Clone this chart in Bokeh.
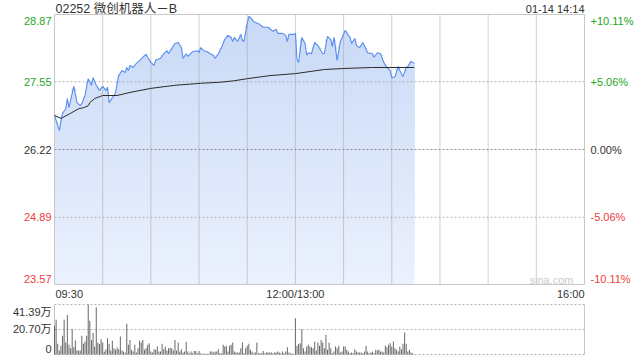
import numpy as np
from bokeh.plotting import figure
from bokeh.models import Range1d
from bokeh.core.properties import value
from bokeh.embed import file_html
from bokeh.resources import INLINE

# ---------------- data ----------------
TITLE = "02252 微创机器人－B"
STAMP = "01-14 14:14"
PRICE_TICKS = [23.57, 24.89, 26.22, 27.55, 28.87]
PCT_LABELS = ["-10.11%", "-5.06%", "0.00%", "+5.06%", "+10.11%"]
TIME_TICKS = [0, 150, 330]
TIME_LABELS = ["09:30", "12:00/13:00", "16:00"]
VOL_TICKS = [0, 20.70, 41.39]
VOL_LABELS = ["0", "20.70万", "41.39万"]

# minute index from 09:30 (150 = 13:00), last price
price_min = [0, 3, 5, 7, 8, 9, 10, 12, 14, 16, 17, 19, 21, 23, 24, 26, 28, 30, 32, 33,
             34, 37, 38, 40, 42, 44, 45, 46, 47, 49, 51, 53, 55, 57, 58, 60, 62, 63, 66, 68,
             70, 71, 73, 75, 77, 79, 80, 82, 83, 86, 89, 90, 91, 93, 95, 97, 99, 100, 102, 104,
             106, 108, 110, 111, 112, 114, 116, 117, 118, 120, 121, 122, 124, 127, 130, 133, 136, 138, 139, 142,
             144, 145, 146, 149, 150, 151, 152, 154, 156, 157, 158, 160, 162, 164, 167, 168, 170, 172, 173, 174,
             176, 178, 180, 181, 183, 184, 185, 187, 188, 190, 192, 195, 198, 199, 201, 203, 205, 207, 209, 210,
             212, 214, 215, 217, 219, 220, 222, 224]
price_val = [26.89, 26.59, 26.93, 27.02, 27.22, 27.04, 27.18, 27.46, 27.14, 27.08, 27.12, 27.28, 27.61, 27.48, 27.63, 27.48, 27.38, 27.46, 27.38, 27.44,
             27.14, 27.28, 27.34, 27.67, 27.77, 27.73, 27.83, 27.77, 27.87, 27.83, 27.91, 27.97, 28.03, 28.09, 28.03, 27.93, 27.87, 27.97, 28.01, 28.10,
             28.16, 28.10, 28.20, 28.30, 28.32, 28.22, 28.01, 28.10, 28.05, 28.14, 28.16, 28.12, 28.22, 28.16, 28.14, 28.10, 28.07, 28.01, 28.10, 28.22,
             28.38, 28.46, 28.42, 28.34, 28.42, 28.34, 28.48, 28.36, 28.34, 28.69, 28.83, 28.81, 28.73, 28.69, 28.62, 28.62, 28.54, 28.58, 28.50, 28.50,
             28.46, 28.34, 28.48, 28.48, 28.50, 27.99, 27.93, 28.42, 28.30, 28.07, 28.12, 28.10, 28.32, 28.26, 28.10, 28.10, 28.44, 28.38, 28.24, 28.42,
             27.97, 28.34, 28.48, 28.56, 28.46, 28.42, 28.30, 28.40, 28.26, 28.22, 28.32, 28.12, 28.10, 28.03, 28.12, 28.10, 27.93, 27.83, 27.77, 27.63,
             27.65, 27.85, 27.77, 27.65, 27.83, 27.85, 27.95, 27.91]

# average price line
avg_min = [0, 4, 10, 15, 18, 21, 22, 25, 30, 39, 47, 60, 75, 91, 103, 112, 120, 134, 150, 168, 180, 198, 224]
avg_val = [26.89, 26.83, 26.93, 27.02, 27.04, 27.08, 27.14, 27.22, 27.28, 27.28, 27.34, 27.42, 27.48, 27.52, 27.54, 27.57, 27.61, 27.67, 27.71, 27.79, 27.81, 27.83, 27.83]

# volume per minute (万股)
volume_am = [23.7, 28.7, 8.8, 3.3, 7.2, 15.5, 28.7, 9.9, 32.8, 8.0,
             5.2, 21.0, 6.0, 11.6, 3.3, 3.3, 3.3, 15.5, 8.8, 10.8,
             15.5, 41.39, 27.9, 12.1, 17.7, 6.6, 39.2, 9.9, 8.6, 12.7,
             9.9, 2.5, 4.4, 13.5, 8.8, 3.3, 11.3, 5.2, 3.9, 6.0,
             4.4, 14.9, 3.3, 2.5, 1.5, 25.4, 8.0, 12.1, 3.9, 2.5,
             8.0, 1.7, 5.2, 11.6, 9.9, 12.1, 3.9, 5.2, 8.0, 9.4,
             2.5, 1.7, 4.4, 3.9, 6.6, 2.5, 2.5, 8.8, 4.4, 6.6,
             3.3, 5.2, 5.5,
             5.2, 3.3, 12.1, 3.3, 9.9, 2.5, 4.4, 1.7, 2.5, 10.5,
             2.5, 1.1, 2.5, 1.1, 3.0, 3.0, 1.1, 2.8, 1.1, 0.6,
             0.6, 0.6, 0.6, 0.6, 2.5, 2.5, 1.7, 2.5, 2.5, 4.4,
             1.1, 1.1, 8.0, 6.6, 7.2, 2.5, 7.2, 8.0, 9.9, 2.5,
             1.7, 1.7, 1.7, 5.2, 9.9, 1.1, 5.2, 7.2, 8.8, 3.9,
             2.5, 1.1, 1.9, 9.9, 1.1, 1.1, 1.1, 3.0, 1.1, 1.7,
             1.7, 1.7, 1.7, 1.1, 1.7, 1.7, 2.5, 1.7, 1.1, 2.5,
             1.1, 2.5, 6.0, 1.7, 1.1, 0.6, 0.6]
volume_pm = [30.1, 7.2, 8.6, 9.4, 21.0, 5.2, 2.5, 6.6, 8.0, 6.6,
             6.0, 5.2, 10.5, 3.3, 9.9, 7.2, 12.1, 9.9, 5.2, 16.3,
             3.9, 9.9, 5.2, 1.1, 2.5, 6.6, 5.2, 7.2, 1.7, 2.5,
             6.6, 6.6, 3.9, 2.5, 1.1, 1.7, 1.1, 4.4, 2.5, 1.7,
             1.7, 1.7, 1.1, 2.5, 7.2, 2.5, 1.1, 1.7, 2.5, 1.1,
             3.9, 3.3, 3.9, 2.5, 2.5, 1.7, 7.2, 6.0, 8.0, 9.4,
             6.6, 10.8, 5.2, 3.9, 2.5, 6.6, 4.4, 8.8, 18.2, 8.8,
             2.5, 3.9, 1.7, 1.1]

# ---------------- layout (pixels) ----------------
W, H = 640, 360
FL, FR = 54, 584          # frame left / right
PT, PB = 14, 284          # price panel top / bottom
VT, VB = 304, 354         # volume panel top / bottom
FONT = "Liberation Sans, Noto Sans CJK SC"
GREEN, RED, DARK = "#22a722", "#f03c3c", "#333333"
FILL_BOTTOM = (235, 241, 253)
FILL_TOP = (200, 217, 246)
GRID = "#a0a0a0"

t0, t1 = TIME_TICKS[0], TIME_TICKS[-1]
p0, p1 = PRICE_TICKS[0], PRICE_TICKS[-1]
v1 = VOL_TICKS[-1]

sx = (FR - FL) / (t1 - t0)
sp = (PB - PT) / (p1 - p0)
sv = (VB - VT) / v1
x_start = t0 - FL / sx
x_end = t1 + (W - FR) / sx
y_start = p0 - (H - PB) / sp
y_end = p1 + PT / sp
vy_start = 0 - (H - VB) / sv
vy_end = v1 + VT / sv


def px2x(px):
    return x_start + px / sx


def py2p(py):
    return y_end - py / sp


p = figure(width=W, height=H, output_backend="svg", toolbar_location=None,
           x_axis_location=None, y_axis_location=None, min_border=0,
           x_range=Range1d(x_start, x_end), y_range=Range1d(y_start, y_end),
           background_fill_color="white", border_fill_color="white")
p.extra_y_ranges = {"vol": Range1d(vy_start, vy_end)}
p.outline_line_color = None
p.grid.visible = False

pm = np.array(price_min, dtype=float)
pv = np.array(price_val, dtype=float)

# area fill with a banded vertical gradient (opaque bands)
levels = np.linspace(p0, p1, 40)
for i, L in enumerate(levels):
    f = i / (len(levels) - 1)
    c = tuple(int(round(a + (b - a) * f)) for a, b in zip(FILL_BOTTOM, FILL_TOP))
    p.varea(x=pm, y1=np.maximum(pv, L), y2=L, fill_color="#%02x%02x%02x" % c)

# horizontal grid lines: drawn as short vertical ticks would be odd, so use
# dotted strokes with a 2px period (vertical dotted lines render fine)
hgrid = PRICE_TICKS[1:-1]
p.segment(x0=[t0] * 3, x1=[t1] * 3, y0=hgrid, y1=hgrid,
          line_color=["#b4b4b4", "#8c8c8c", "#b4b4b4"], line_dash="2 2", line_width=1)
grid_t = list(range(t0 + 30, t1, 30))
p.segment(x0=grid_t, x1=grid_t, y0=p0, y1=p1, line_color=GRID, line_dash="1 1", line_width=1)

# main frame
p.quad(left=t0, right=t1, bottom=p0, top=p1, fill_color=None, line_color="#c8c8c8", line_width=1)

# lines
p.line(pm, pv, line_color="#5b8ef0", line_width=1.1)
p.line(avg_min, avg_val, line_color="#2b2b2b", line_width=1)

# volume panel
p.segment(x0=[t0] * 3, x1=[t1] * 3, y0=VOL_TICKS, y1=VOL_TICKS, line_color="#b4b4b4",
          line_dash="2 2", line_width=1, y_range_name="vol")
p.segment(x0=[t0, t1], x1=[t0, t1], y0=0, y1=v1, line_color="#c8c8c8", line_width=1,
          y_range_name="vol")
vol = volume_am + volume_pm
p.vbar(x=list(range(len(vol))), top=vol, bottom=0, width=0.62, fill_color="#666666",
       line_color=None, y_range_name="vol")

# ---------------- texts ----------------
fnt = value(FONT)
p.text(x=[px2x(FL + 1)], y=[py2p(8)], text=[TITLE], text_font=fnt, text_font_size="12.5px",
       text_color=DARK, text_align="left", text_baseline="middle")
p.text(x=[px2x(FR)], y=[py2p(8)], text=[STAMP], text_font=fnt, text_font_size="11px",
       text_color=DARK, text_align="right", text_baseline="middle")

# price labels (left) and percent labels (right)
lab_y = [PRICE_TICKS[0] + 6 / sp] + PRICE_TICKS[1:-1] + [PRICE_TICKS[-1] - 6 / sp]
mid = PRICE_TICKS[2]
cols = [RED if t < mid else (GREEN if t > mid else DARK) for t in PRICE_TICKS]
p.text(x=[px2x(FL - 3)] * 5, y=lab_y, text=[f"{t:.2f}" for t in PRICE_TICKS], text_font=fnt,
       text_font_size="11px", text_color=cols, text_align="right", text_baseline="middle")
p.text(x=[px2x(FR + 6)] * 5, y=lab_y, text=PCT_LABELS, text_font=fnt,
       text_font_size="11px", text_color=cols, text_align="left", text_baseline="middle")

# time labels
ty = py2p(293)
p.text(x=[TIME_TICKS[0] + 1 / sx, TIME_TICKS[1], TIME_TICKS[2]], y=[ty] * 3, text=TIME_LABELS,
       text_font=fnt, text_font_size="11px", text_color=DARK,
       text_align=["left", "center", "right"], text_baseline="middle")

# volume labels
vly = [VOL_TICKS[0] + 6 / sv, VOL_TICKS[1], VOL_TICKS[2] - 7 / sv]
p.text(x=[px2x(FL - 3)] * 3, y=vly, text=VOL_LABELS, text_font=fnt, text_font_size="11px",
       text_color=DARK, text_align="right", text_baseline="middle", y_range_name="vol")

# watermark
p.text(x=[px2x(FR - 11)], y=[p0 + 5 / sp], text=["sina.com"], text_font=fnt,
       text_font_size="11px", text_color="#cccccc", text_align="right", text_baseline="middle")

open("out.html", "w").write(file_html(p, INLINE))
